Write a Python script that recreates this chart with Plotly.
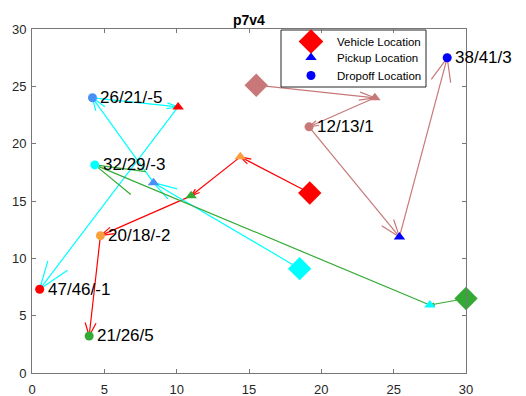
import plotly.graph_objects as go

# ---- vehicles (start positions) ----
veh_x = [19.2, 18.5, 30.0, 15.5]
veh_y = [15.7, 9.1, 6.5, 25.1]
veh_colors = ["#ff0000", "#00ffff", "#33aa33", "#c87878"]

# ---- requests: label, colour, pickup and dropoff positions ----
req_labels = ["20/18/-2", "21/26/5", "26/21/-5", "47/46/-1", "32/29/-3", "12/13/1", "38/41/3"]
req_colors = ["#f9a03c", "#33aa33", "#4a8ff5", "#ff0000", "#00ffff", "#c87878", "#0000ff"]
pick_x = [14.4, 11.0, 8.4, 10.1, 27.5, 23.7, 25.4]
pick_y = [18.85, 15.45, 16.6, 23.2, 5.93, 24.0, 11.87]
drop_x = [4.73, 3.95, 4.18, 0.53, 4.34, 19.15, 28.7]
drop_y = [11.98, 3.23, 24.0, 7.3, 18.15, 21.47, 27.49]

# ---- stop sequence of each vehicle: (request index, "P"ickup / "D"ropoff) ----
routes = [
    [(0, "P"), (1, "P"), (0, "D"), (1, "D")],
    [(2, "P"), (2, "D"), (3, "P"), (3, "D")],
    [(4, "P"), (4, "D")],
    [(5, "P"), (5, "D"), (6, "P"), (6, "D")],
]

legend_labels = ["Vehicle Location", "Pickup Location", "Dropoff Location"]
legend_symbols = ["diamond", "triangle-up", "circle"]
legend_colors = ["#ff0000", "#0000ff", "#0000ff"]

FONT = "Arial, Liberation Sans, sans-serif"
HEAD = 0.13   # arrow head length relative to arrow length
BARB = 0.33   # barb spread


def stop_xy(stop):
    i, kind = stop
    return (pick_x[i], pick_y[i]) if kind == "P" else (drop_x[i], drop_y[i])


def arrow(x0, y0, x1, y1):
    u, v = x1 - x0, y1 - y0
    xs = [x0, x1, None,
          x1 - HEAD * (u + BARB * v), x1, x1 - HEAD * (u - BARB * v), None]
    ys = [y0, y1, None,
          y1 - HEAD * (v - BARB * u), y1, y1 - HEAD * (v + BARB * u), None]
    return xs, ys


fig = go.Figure()

# route arrows
for k, route in enumerate(routes):
    pts = [(veh_x[k], veh_y[k])] + [stop_xy(s) for s in route]
    xs, ys = [], []
    for (a, b), (c, d) in zip(pts[:-1], pts[1:]):
        ax, ay = arrow(a, b, c, d)
        xs += ax
        ys += ay
    fig.add_trace(go.Scatter(x=xs, y=ys, mode="lines",
                             line=dict(color=veh_colors[k], width=1.2),
                             hoverinfo="skip"))

# vehicles, pickups and dropoffs
fig.add_trace(go.Scatter(x=veh_x, y=veh_y, mode="markers", cliponaxis=False,
                         marker=dict(symbol="diamond", size=18, color=veh_colors,
                                     opacity=1, line=dict(width=0))))
fig.add_trace(go.Scatter(x=pick_x, y=pick_y, mode="markers", cliponaxis=False,
                         marker=dict(symbol="triangle-up", size=10, color=req_colors,
                                     opacity=1, line=dict(width=0))))
fig.add_trace(go.Scatter(x=drop_x, y=drop_y, mode="markers", cliponaxis=False,
                         marker=dict(symbol="circle", size=9, color=req_colors,
                                     opacity=1, line=dict(width=0))))

# dropoff labels
for lx, ly, txt in zip(drop_x, drop_y, req_labels):
    fig.add_annotation(x=lx, y=ly, text=txt, showarrow=False, xanchor="left",
                       yanchor="middle", xshift=6,
                       font=dict(family=FONT, size=17, color="black"))

# ---- legend box, drawn on a pixel-unit overlay axis ----
box_l, box_r, box_t, box_b = 281, 426, 30, 87
fig.add_trace(go.Scatter(x=[box_l, box_r, box_r, box_l, box_l],
                         y=[box_t, box_t, box_b, box_b, box_t],
                         xaxis="x2", yaxis="y2", mode="lines", fill="toself",
                         fillcolor="white", line=dict(color="#262626", width=1),
                         cliponaxis=False, hoverinfo="skip"))
leg_y = [41.5, 57.5, 75.5]
for ty, sym, col, sz in zip(leg_y, legend_symbols, legend_colors, [19, 10, 9]):
    fig.add_trace(go.Scatter(x=[311], y=[ty], xaxis="x2", yaxis="y2",
                             mode="markers", cliponaxis=False,
                             marker=dict(symbol=sym, size=sz, color=col, opacity=1,
                                         line=dict(width=0))))
for ty, txt in zip(leg_y, legend_labels):
    fig.add_annotation(x=335, y=ty, xref="x2", yref="y2", text=txt, showarrow=False,
                       xanchor="left", yanchor="middle",
                       font=dict(family=FONT, size=11.5, color="black"))

# title
fig.add_annotation(x=0.5, y=1.026, xref="paper", yref="paper", text="<b>p7v4</b>",
                   showarrow=False, xanchor="center", yanchor="middle",
                   font=dict(family=FONT, size=14, color="black"))

axis_common = dict(range=[0, 30], tickvals=[0, 5, 10, 15, 20, 25, 30],
                   ticks="inside", ticklen=4, tickcolor="#777777",
                   showline=True, linecolor="#777777", linewidth=1,
                   mirror="ticks", showgrid=False, zeroline=False,
                   automargin=False,
                   tickfont=dict(family=FONT, size=13, color="#262626"))

fig.update_layout(
    width=526, height=396,
    margin=dict(l=32, r=60, t=29, b=23, autoexpand=False),
    plot_bgcolor="white", paper_bgcolor="white",
    showlegend=False,
    xaxis=dict(axis_common, ticklabelstandoff=4),
    yaxis=dict(axis_common, ticklabelstandoff=2),
    xaxis2=dict(overlaying="x", range=[32, 466], visible=False, automargin=False),
    yaxis2=dict(overlaying="y", range=[373, 29], visible=False, automargin=False),
)

fig.write_html("out.html")
